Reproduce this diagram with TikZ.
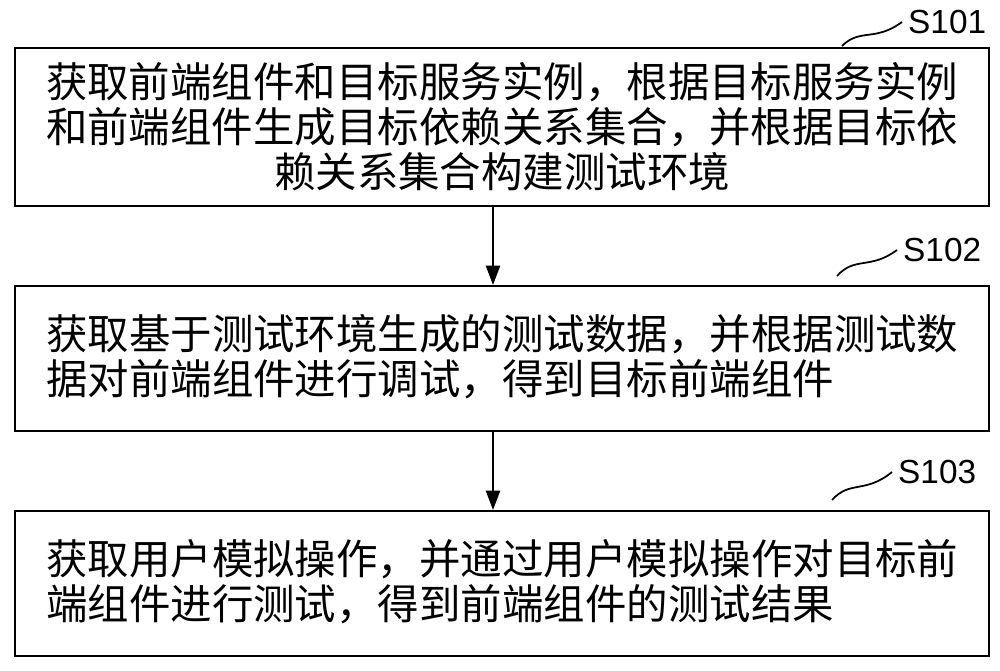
\documentclass[tikz,border=0pt]{standalone}
\usepackage{fontspec}
\setmainfont{Noto Sans CJK SC}
\setsansfont{Liberation Sans}
\usetikzlibrary{arrows.meta}
\begin{document}
\begin{tikzpicture}[x=0.02cm,y=-0.02cm,
  stepbox/.style={draw,line width=1.3pt,minimum width=974*0.02cm,anchor=north west,inner sep=0pt},
  txt/.style={font=\fontsize{23.6}{25.6}\selectfont},
  lbl/.style={font=\sffamily\fontsize{19}{20}\selectfont,anchor=west},
  arr/.style={-{Triangle[length=11pt,width=8pt]},line width=1.2pt}]
\useasboundingbox (0,0) rectangle (1000,671);
\node[stepbox,minimum height=158*0.02cm] (b1) at (14,47) {};
\node[stepbox,minimum height=145*0.02cm] (b2) at (14,285) {};
\node[stepbox,minimum height=145*0.02cm] (b3) at (14,510) {};
\node[txt,align=center] (t1) at (b1.center) {获取前端组件和目标服务实例，根据目标服务实例\\和前端组件生成目标依赖关系集合，并根据目标依\\赖关系集合构建测试环境};
\node[txt,align=left,anchor=west] (t2) at (40,357) {获取基于测试环境生成的测试数据，并根据测试数\\据对前端组件进行调试，得到目标前端组件};
\node[txt,align=left,anchor=west] (t3) at (40,582) {获取用户模拟操作，并通过用户模拟操作对目标前\\端组件进行测试，得到前端组件的测试结果};
\draw[arr] (b1.south -| 493,0) -- (b2.north -| 493,0);
\draw[arr] (b2.south -| 493,0) -- (b3.north -| 493,0);
\node[lbl] (l1) at (902,22) {S101};
\node[lbl] (l2) at (897,250) {S102};
\node[lbl] (l3) at (892,472) {S103};
\draw[line width=1pt] (842,46) .. controls (860,28) and (875,42) .. (l1.west);
\draw[line width=1pt] (837,276) .. controls (855,256) and (870,270) .. (l2.west);
\draw[line width=1pt] (832,500) .. controls (850,480) and (865,494) .. (l3.west);
\end{tikzpicture}
\end{document}
